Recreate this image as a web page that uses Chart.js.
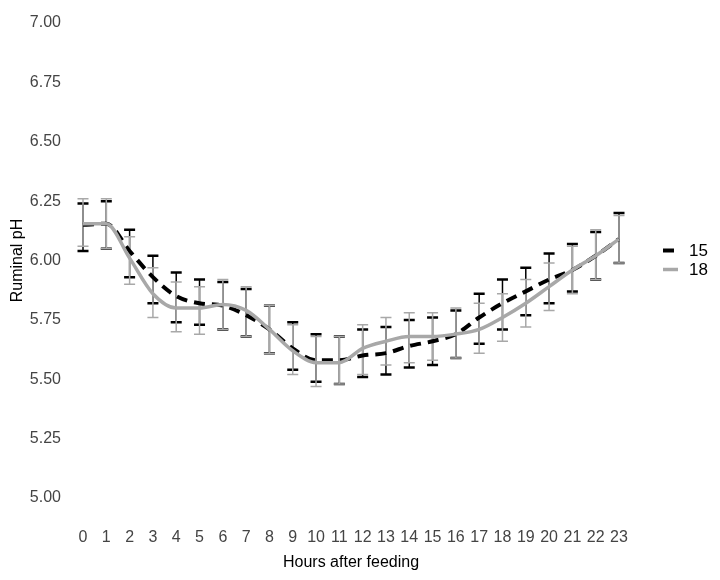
<!DOCTYPE html>
<html>
<head>
<meta charset="utf-8">
<script src="https://cdn.jsdelivr.net/npm/chart.js@4/dist/chart.umd.min.js"></script>
<style>
  html, body { margin: 0; padding: 0; background: #fff; }
  #wrap { width: 720px; height: 580px; }
</style>
</head>
<body>
<div id="wrap"><canvas id="chart" width="720" height="580"></canvas></div>
<script>
// hours after feeding
const hours = ['0','1','2','3','4','5','6','7','8','9','10','11','12','13','14','15','16','17','18','19','20','21','22','23'];

// treatment 15 (black dashed)
const mean15 = [6.15, 6.155, 6.04, 5.93, 5.85, 5.82, 5.81, 5.77, 5.71, 5.63, 5.58, 5.58, 5.60, 5.61, 5.64, 5.66, 5.69, 5.76, 5.82, 5.87, 5.92, 5.96, 6.02, 6.09];
const upper15 = [6.24, 6.25, 6.13, 6.02, 5.95, 5.92, 5.91, 5.88, 5.81, 5.74, 5.69, 5.68, 5.71, 5.72, 5.75, 5.76, 5.79, 5.86, 5.92, 5.97, 6.03, 6.07, 6.12, 6.20];
const lower15 = [6.04, 6.05, 5.93, 5.82, 5.74, 5.73, 5.71, 5.68, 5.61, 5.54, 5.49, 5.48, 5.51, 5.52, 5.55, 5.56, 5.59, 5.65, 5.71, 5.77, 5.82, 5.87, 5.92, 5.99];

// treatment 18 (grey solid)
const mean18 = [6.155, 6.155, 6.01, 5.86, 5.80, 5.80, 5.815, 5.79, 5.71, 5.62, 5.57, 5.57, 5.63, 5.66, 5.68, 5.68, 5.69, 5.71, 5.76, 5.82, 5.89, 5.96, 6.02, 6.09];
const upper18 = [6.26, 6.26, 6.10, 5.97, 5.91, 5.89, 5.92, 5.89, 5.81, 5.73, 5.68, 5.68, 5.73, 5.76, 5.78, 5.78, 5.80, 5.82, 5.86, 5.92, 5.99, 6.06, 6.13, 6.19];
const lower18 = [6.06, 6.05, 5.90, 5.76, 5.70, 5.69, 5.71, 5.68, 5.61, 5.52, 5.47, 5.48, 5.52, 5.56, 5.57, 5.58, 5.59, 5.61, 5.66, 5.72, 5.79, 5.86, 5.92, 5.99];

const yTicks = [5.00, 5.25, 5.50, 5.75, 6.00, 6.25, 6.50, 6.75, 7.00];

const BLACK = '#000000';
const GREY = '#a8a8a8';

// error bars drawn under the lines
const errorBars = {
    id: 'errorBars',
    beforeDatasetsDraw(chart) {
        const ctx = chart.ctx;
        const xs = chart.scales.x, ys = chart.scales.y;
        const sets = [
            { lo: lower15, hi: upper15, color: BLACK, w: 1.5, capW: 2.5 },
            { lo: lower18, hi: upper18, color: GREY, w: 1.5, capW: 1.5 }
        ];
        ctx.save();
        sets.forEach(s => {
            ctx.strokeStyle = s.color;
            for (let i = 0; i < hours.length; i++) {
                const x = xs.getPixelForValue(i);
                const y1 = ys.getPixelForValue(s.hi[i]);
                const y2 = ys.getPixelForValue(s.lo[i]);
                ctx.lineWidth = s.w;
                ctx.beginPath();
                ctx.moveTo(x, y1);
                ctx.lineTo(x, y2);
                ctx.stroke();
                ctx.lineWidth = s.capW;
                ctx.beginPath();
                ctx.moveTo(x - 5.5, y1); ctx.lineTo(x + 5.5, y1);
                ctx.moveTo(x - 5.5, y2); ctx.lineTo(x + 5.5, y2);
                ctx.stroke();
            }
        });
        ctx.restore();
    }
};

// legend on the right
const sideLegend = {
    id: 'sideLegend',
    afterDraw(chart) {
        const ctx = chart.ctx;
        const a = chart.chartArea;
        const cy = (a.top + a.bottom) / 2;
        const x0 = a.right + 44;
        ctx.save();
        chart.data.datasets.forEach((ds, i) => {
            const y = cy - 10 + i * 19;
            ctx.strokeStyle = ds.borderColor;
            ctx.lineWidth = ds.borderWidth;
            ctx.setLineDash(ds.borderDash || []);
            ctx.beginPath();
            ctx.moveTo(x0, y);
            ctx.lineTo(x0 + 15, y);
            ctx.stroke();
            ctx.setLineDash([]);
            ctx.fillStyle = '#000';
            ctx.font = '17px "Liberation Sans", Arial, sans-serif';
            ctx.textBaseline = 'middle';
            ctx.fillText(ds.label, x0 + 26, y + 1);
        });
        ctx.restore();
    }
};

new Chart(document.getElementById('chart').getContext('2d'), {
    type: 'line',
    data: {
        labels: hours,
        datasets: [{
            label: '15',
            data: mean15,
            borderColor: BLACK,
            borderWidth: 4,
            borderDash: [11, 7],
            borderCapStyle: 'butt',
            cubicInterpolationMode: 'monotone',
            pointRadius: 0,
            fill: false,
            order: 1
        }, {
            label: '18',
            data: mean18,
            borderColor: GREY,
            borderWidth: 3.5,
            cubicInterpolationMode: 'monotone',
            pointRadius: 0,
            fill: false,
            order: 0
        }]
    },
    options: {
        responsive: false,
        animation: false,
        layout: { padding: { top: 23, right: 101, bottom: 0, left: 0 } },
        plugins: { legend: { display: false }, tooltip: { enabled: false } },
        scales: {
            x: {
                type: 'category',
                offset: false,
                grid: { display: false, drawTicks: false },
                border: { display: false },
                ticks: { color: '#444', padding: 30, maxRotation: 0, autoSkip: false,
                         font: { family: '"Liberation Sans", Arial, sans-serif', size: 16 } },
                title: { display: true, text: 'Hours after feeding', color: '#000',
                         padding: { top: 0, bottom: 8 },
                         font: { family: '"Liberation Sans", Arial, sans-serif', size: 16 } },
                afterFit(s) { s.height = 82; }
            },
            y: {
                min: 5, max: 7,
                grid: { display: false, drawTicks: false },
                border: { display: false },
                afterBuildTicks(s) { s.ticks = yTicks.map(v => ({ value: v })); },
                ticks: { color: '#444', padding: 22,
                         callback: v => Number(v).toFixed(2),
                         font: { family: '"Liberation Sans", Arial, sans-serif', size: 16 } },
                title: { display: true, text: 'Ruminal pH', color: '#000',
                         padding: { top: 8, bottom: 0 },
                         font: { family: '"Liberation Sans", Arial, sans-serif', size: 16 } },
                afterFit(s) { s.width = 83; s.paddingTop = 0; s.paddingBottom = 0; }
            }
        }
    },
    plugins: [errorBars, sideLegend]
});
</script>
</body>
</html>
